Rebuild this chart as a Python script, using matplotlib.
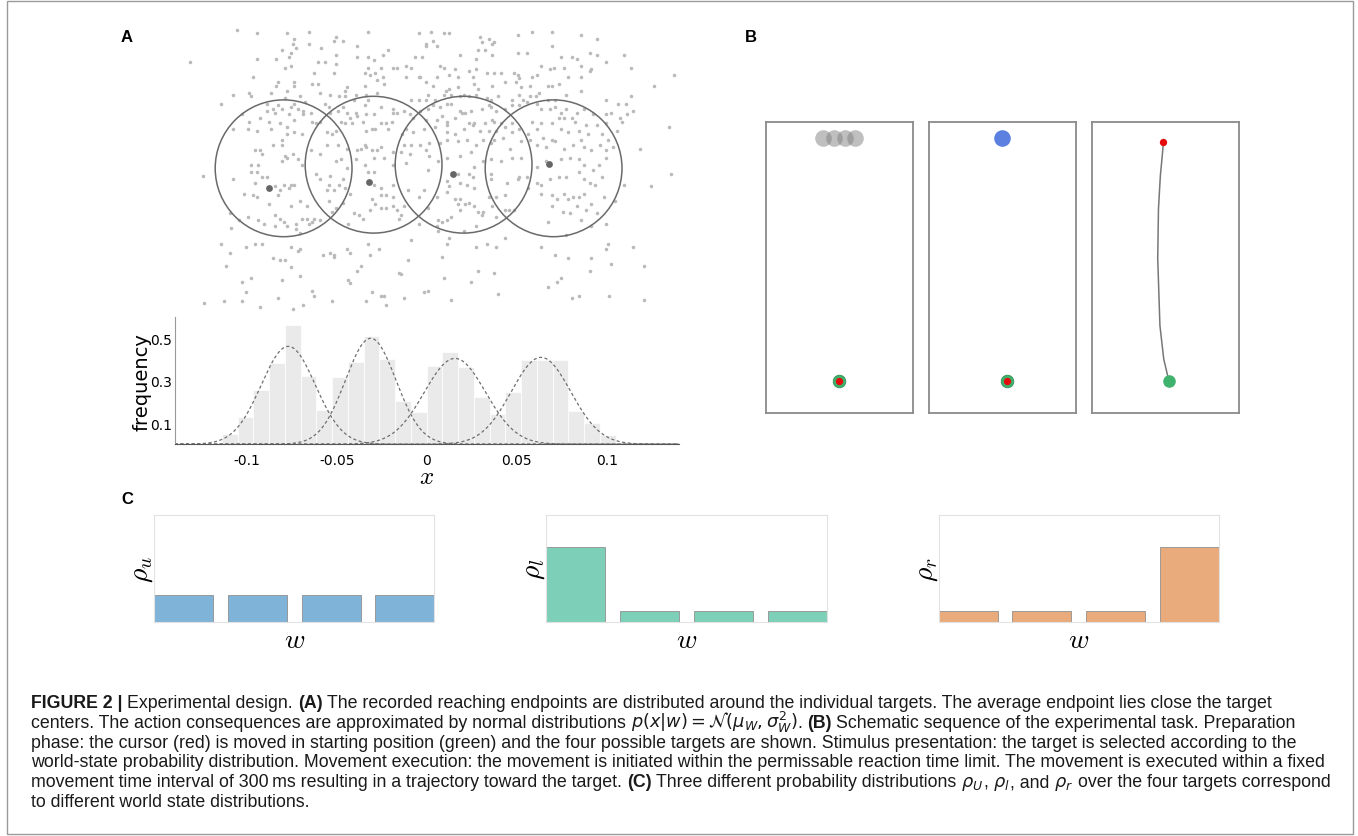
import matplotlib
matplotlib.use('Agg')
import matplotlib.pyplot as plt
from matplotlib.patches import Circle, Rectangle
from matplotlib import font_manager
import numpy as np

W, H = 1358, 837

# ---- panel A: reach endpoints (mm), targets and mean endpoints
targets_x = [-75, -25, 25, 75]
targets_y = [-1, 1, 1, -1]
target_radius = 38
mean_x = [-83.3, -27.6, 19.3, 72.4]
mean_y = [-12.1, -8.8, -4.3, 1.2]

endpoints_ul = [
    (-101, 76), (-90, 74), (-73, 74), (-61, 75), (-69, 71), (-70, 68), (-46, 72), (-47, 70), (-42, 70), (-28, 75),
    (-127, 58), (-90, 60), (-76, 65), (-71, 63), (-79, 60), (-72, 61), (-68, 66), (-54, 66), (-61, 68), (-34, 67),
    (-46, 62), (-52, 58), (-56, 58), (-46, 57), (-34, 61), (-28, 61), (-25, 59), (-20, 62), (-17, 65), (-21, 55),
    (-28, 55), (-30, 52), (-27, 51), (-24, 52), (-14, 55), (-12, 55), (-7, 56), (-7, 50), (-20, 50), (-19, 46),
    (-23, 48), (-92, 50), (-71, 56), (-74, 55), (-58, 52), (-47, 52), (-78, 47), (-79, 45), (-69, 47), (-69, 45),
    (-56, 46), (-59, 46), (-40, 44), (-41, 42), (-30, 45), (-35, 40), (-29, 40), (-23, 41), (-94, 41), (-93, 39),
    (-103, 40), (-110, 35), (-82, 41), (-73, 42), (-74, 38), (-66, 39), (-55, 41), (-52, 35), (-49, 40), (-44, 39),
    (-41, 39), (-36, 37), (-30, 34), (-28, 37), (-21, 33), (-14, 32), (-12, 30), (-8, 31), (-84, 35), (-78, 34),
    (-71, 33), (-69, 35), (-67, 32), (-63, 36), (-50, 33), (-42, 33), (-98, 29), (-94, 25), (-88, 27), (-84, 31),
    (-81, 32), (-80, 30), (-76, 32), (-83, 25), (-72, 29), (-69, 26), (-64, 29), (-64, 31), (-60, 30), (-59, 25),
    (-57, 24), (-55, 25), (-49, 30), (-45, 31), (-40, 30), (-35, 30), (-38, 27), (-34, 28), (-29, 29), (-25, 29),
    (-14, 30), (-15, 25), (-18, 24), (-103, 21), (-95, 21), (-90, 20), (-82, 21), (-77, 24), (-73, 22), (-73, 18),
    (-76, 15), (-69, 19), (-65, 18), (-51, 19), (-48, 18), (-46, 20), (-41, 24), (-43, 25), (-37, 24), (-31, 25),
    (-29, 20), (-26, 21), (-24, 21), (-21, 24), (-17, 21), (-9, 18), (-7, 21), (-91, 9), (-88, 9), (-87, 7),
    (-81, 12), (-76, 12), (-74, 6), (-73, 5), (-76, 3), (-70, 7), (-67, 4), (-60, 9), (-55, 7), (-51, 12),
    (-45, 12), (-40, 10), (-34, 9), (-30, 12), (-29, 11), (-32, 10), (-26, 9), (-23, 9), (-21, 11), (-19, 5),
    (-14, 8), (-10, 8), (-8, 12), (-93, 1), (-89, 1), (-65, 1), (-46, 3), (-43, 4), (-35, 4), (-30, 1),
    (-25, 5), (-14, 1), (-7, 2),
]
endpoints_ur = [
    (0, 74), (7, 75), (14, 74), (17, 74), (4, 68), (4, 67), (10, 67), (8, 70), (34, 72), (39, 71),
    (35, 69), (42, 69), (41, 68), (55, 73), (63, 75), (74, 75), (74, 67), (55, 63), (60, 63), (90, 73),
    (99, 71), (95, 63), (99, 62), (104, 58), (114, 62), (118, 55), (-2, 61), (2, 61), (23, 62), (32, 60),
    (41, 62), (33, 65), (37, 65), (12, 56), (14, 55), (1, 50), (0, 50), (-4, 55), (20, 54), (17, 51),
    (10, 50), (28, 53), (30, 50), (22, 50), (32, 54), (38, 52), (42, 52), (46, 52), (53, 52), (55, 51),
    (56, 49), (63, 50), (66, 51), (68, 56), (73, 54), (75, 55), (81, 55), (79, 61), (85, 61), (88, 60),
    (90, 56), (95, 53), (96, 54), (90, 50), (83, 50), (4, 47), (8, 45), (5, 40), (15, 42), (17, 43),
    (22, 44), (31, 46), (33, 43), (41, 45), (48, 47), (54, 47), (57, 44), (62, 45), (67, 41), (72, 45),
    (74, 45), (78, 46), (72, 37), (76, 37), (82, 40), (90, 42), (104, 37), (111, 35), (115, 35), (118, 39),
    (119, 31), (116, 29), (113, 25), (112, 27), (-4, 37), (0, 37), (4, 37), (9, 37), (14, 40), (18, 40),
    (23, 39), (25, 40), (28, 39), (32, 40), (38, 38), (40, 37), (44, 39), (52, 37), (56, 40), (58, 37),
    (62, 39), (66, 35), (65, 39), (-5, 29), (1, 31), (5, 32), (8, 34), (12, 33), (16, 35), (18, 35),
    (23, 31), (26, 30), (29, 31), (35, 32), (39, 34), (40, 33), (43, 31), (48, 32), (52, 34), (56, 34),
    (60, 36), (68, 32), (73, 32), (76, 33), (79, 30), (82, 32), (85, 27), (88, 30), (92, 32), (97, 29),
    (104, 29), (107, 30), (-3, 27), (4, 26), (10, 26), (13, 28), (16, 25), (20, 27), (24, 30), (28, 24),
    (31, 24), (37, 24), (41, 26), (42, 25), (52, 24), (46, 24), (63, 25), (68, 24), (74, 24), (78, 27),
    (81, 27), (87, 25), (93, 23), (99, 23), (104, 24), (-3, 19), (3, 21), (9, 22), (16, 23), (16, 19),
    (20, 18), (25, 21), (30, 23), (34, 20), (39, 20), (43, 20), (48, 22), (52, 19), (56, 21), (61, 18),
    (66, 21), (69, 16), (74, 15), (79, 21), (83, 19), (89, 20), (90, 15), (94, 18), (102, 18), (105, 15),
    (110, 20), (-4, 12), (1, 12), (6, 13), (12, 13), (16, 15), (22, 14), (27, 15), (32, 12), (36, 15),
    (40, 13), (42, 15), (47, 16), (51, 10), (57, 14), (62, 15), (66, 12), (71, 11), (76, 14), (81, 10),
    (86, 12), (92, 11), (96, 9), (101, 12), (104, 9), (108, 11), (123, 10), (-5, 7), (4, 9), (6, 6),
    (11, 3), (16, 5), (23, 6), (29, 8), (31, 0), (36, 3), (40, 4), (46, 3), (52, 5), (57, 5),
    (66, 0), (71, 3), (79, 4), (84, 5), (89, 4), (92, 1), (100, 1), (104, 5),
    (142, 51), (131, 45), (139, 22), (140, -4), (129, -11),
]
endpoints_ll = [
    (-120, -5), (-103, -7), (-93, -3), (-90, -3), (-91, -9), (-87, -6), (-84, -6), (-80, -11), (-78, -16), (-77, -13),
    (-75, -10), (-72, -12), (-71, -10), (-69, -10), (-97, -15), (-92, -16), (-90, -17), (-83, -21), (-71, -22), (-66, -19),
    (-62, -22), (-57, -4), (-55, -7), (-50, -10), (-49, -5), (-51, -13), (-47, -13), (-44, -10), (-42, -7), (-41, -12),
    (-40, -1), (-38, -15), (-50, -19), (-46, -23), (-42, -20), (-48, -25), (-36, -26), (-33, -27), (-39, -32), (-31, -29),
    (-25, -3), (-28, -3), (-25, -10), (-21, -12), (-21, -16), (-18, -16), (-26, -18), (-24, -21), (-21, -23), (-27, -24),
    (-18, -23), (-14, -22), (-11, -29), (-12, -24), (-10, -27), (-14, -10), (-14, -17), (-6, -13), (-8, -22),
    (-105, -26), (-104, -34), (-100, -30), (-95, -28), (-89, -30), (-86, -32), (-80, -27), (-77, -29), (-75, -31), (-80, -33),
    (-73, -33), (-68, -32), (-65, -29), (-62, -29), (-58, -29), (-55, -30), (-59, -31), (-68, -35), (-66, -37), (-61, -32),
    (-110, -43), (-105, -48), (-96, -45), (-91, -43), (-87, -43), (-81, -51), (-77, -52), (-74, -52), (-71, -45), (-67, -47),
    (-66, -46), (-71, -56), (-66, -61), (-53, -49), (-49, -48), (-47, -49), (-47, -50), (-40, -46), (-38, -48), (-32, -55),
    (-34, -58), (-28, -43), (-22, -46), (-27, -49), (-11, -59), (-10, -60), (-107, -55), (-98, -64), (-93, -62), (-96, -70),
    (-76, -63), (-59, -69), (-58, -72), (-39, -63), (-38, -65), (-26, -70), (-21, -72), (-19, -72), (-8, -73), (-6, -52),
    (-119, -76), (-108, -75), (-98, -75), (-88, -78), (-78, -73), (-70, -79), (-64, -77), (-48, -75), (-29, -75), (-18, -77),
]
endpoints_lr = [
    (5, -2), (16, -8), (17, -11), (23, -9), (22, -4), (28, -4), (30, -6), (31, -12), (27, -10), (16, -14),
    (10, -17), (20, -18), (23, -18), (26, -21), (28, -20), (22, -21), (23, -24), (18, -28), (11, -30), (13, -31),
    (16, -30), (10, -33), (11, -36), (3, -13), (0, -17), (5, -23), (0, -32), (-4, -41), (31, -22), (33, -25),
    (36, -25), (35, -27), (32, -33), (25, -36), (17, -40), (16, -43), (32, -45), (38, -43), (43, -45), (48, -40),
    (40, -7), (40, -4), (39, -17), (43, -17), (48, -16), (41, -22), (43, -28), (48, -24), (50, -24), (53, -24),
    (55, -7), (56, -6), (60, -6), (61, -12), (49, -9), (66, -9), (68, -10), (73, -7), (78, -6), (82, -6),
    (89, -3), (92, -7), (95, -9), (98, -10), (102, -6), (97, -2), (68, -15), (74, -16), (77, -18), (81, -15),
    (83, -18), (86, -17), (89, -17), (92, -15), (96, -21), (93, -24), (88, -22), (84, -26), (80, -25), (74, -22),
    (72, -31), (82, -38), (90, -30), (99, -26), (103, -17), (109, -19), (114, -10), (96, -33), (104, -32), (68, -45),
    (76, -49), (83, -51), (96, -51), (95, -58), (104, -46), (105, -43), (107, -54), (119, -45), (125, -55), (79, -62),
    (77, -64), (72, -67), (85, -73), (89, -72), (106, -72), (125, -74), (44, -71), (29, -64), (33, -58), (42, -59),
    (14, -62), (3, -70), (5, -69), (18, -74), (13, -50),
]

# histogram of endpoints (x in m) and fitted normals
hist_start = -0.14
bin_width = 0.00875
hist_heights = [0, 0, 0, 0.046, 0.127, 0.254, 0.382, 0.565, 0.324, 0.160, 0.317, 0.390, 0.51, 0.40, 0.202, 0.154,
                0.371, 0.434, 0.363, 0.223, 0.144, 0.248, 0.398, 0.398, 0.398, 0.155, 0.098, 0.043, 0, 0, 0, 0]
fit_mu = [-0.0769, -0.0311, 0.0157, 0.0635]
fit_sd = [0.0150, 0.0140, 0.0170, 0.0165]
fit_peak = [0.462, 0.500, 0.405, 0.410]
xticks = [-0.1, -0.05, 0, 0.05, 0.1]
xtick_labels = ['-0.1', '-0.05', '0', '0.05', '0.1']
yticks = [0.1, 0.3, 0.5]

# ---- panel B: schematic screens (screen units)
b_targets_x = [-1.1, -0.37, 0.37, 1.1]
b_target_y = 18.85
b_selected_x = -0.06
b_start_x = [0.0, 0.31, 0.21]
b_start_y = 2.2
traj_x = [0.21, -0.14, -0.40, -0.55, -0.50, -0.37, -0.22, -0.16]
traj_y = [2.2, 3.7, 6.0, 10.6, 14.0, 16.3, 17.9, 18.6]

# ---- panel C: world state distributions
w_states = [0, 1, 2, 3]
rho_u = [0.25, 0.25, 0.25, 0.25]
rho_l = [0.7, 0.1, 0.1, 0.1]
rho_r = [0.1, 0.1, 0.1, 0.7]

fig = plt.figure(figsize=(W / 100, H / 100), dpi=100)


def box(l, t, r, b):
    # pixel box -> figure fraction
    return [l / W, 1 - b / H, (r - l) / W, (b - t) / H]


'''A: endpoints'''
ax = fig.add_axes(box(166.6, 19.9, 688.6, 311.5))
for pts in (endpoints_ul, endpoints_ur, endpoints_ll, endpoints_lr):
    xs, ys = zip(*pts)
    ax.scatter(xs, ys, s=6.5, color='#bababa', linewidths=0, zorder=1)
for tx, ty in zip(targets_x, targets_y):
    ax.add_patch(Circle((tx, ty), target_radius, fill=False, ec='#6a6a6a', lw=1.1, zorder=2))
ax.scatter(mean_x, mean_y, s=24, color='#666666', linewidths=0, zorder=3)
ax.set_xlim(-140, 150)
ax.set_ylim(-80, 82)
ax.axis('off')

'''A: histogram'''
ah = fig.add_axes(box(174.7, 318.1, 678.7, 445.2))
lefts = hist_start + bin_width * np.arange(len(hist_heights))
ah.bar(lefts, hist_heights, width=bin_width, align='edge', color='#eaeaea', edgecolor='white', linewidth=0.5)
xg = np.linspace(-0.14, 0.14, 600)
for m, s, p in zip(fit_mu, fit_sd, fit_peak):
    ah.plot(xg, p * np.exp(-0.5 * ((xg - m) / s) ** 2), color='#6f6f6f', lw=0.9, ls=(0, (2.5, 2)))
ah.set_xlim(-0.14, 0.14)
ah.set_ylim(0, 0.6)
ah.spines['top'].set_visible(False)
ah.spines['right'].set_visible(False)
ah.spines['left'].set_color('#999999')
ah.spines['bottom'].set_color('#555555')
ah.set_xticks(xticks)
ah.set_xticklabels(xtick_labels)
ah.set_yticks(yticks)
ah.set_yticklabels(['0.1', '0.3', '0.5'])
ah.tick_params(length=0, labelsize=10)
ah.tick_params(axis='y', pad=2)
ah.tick_params(axis='x', pad=6)
ah.set_ylabel('frequency', fontsize=14, labelpad=-1)
ah.set_xlabel('$x$', fontsize=18, math_fontfamily='cm', labelpad=-2)

'''B: screens'''
b_boxes = [(766, 912.5), (929.2, 1076), (1092.4, 1239.2)]
axes_b = []
for l, r in b_boxes:
    a = fig.add_axes(box(l, 122.7, r, 414))
    a.set_xlim(-5, 5)
    a.set_ylim(0, 20)
    a.set_xticks([])
    a.set_yticks([])
    for sp in a.spines.values():
        sp.set_color('#8a8a8a')
        sp.set_linewidth(1.3)
    axes_b.append(a)

green = '#3fb36e'
red = '#e30b0b'
a0, a1, a2 = axes_b
a0.scatter(b_targets_x, [b_target_y] * 4, s=143, color='#808080', alpha=0.5, linewidths=0)
a1.scatter([b_selected_x], [b_target_y], s=143, color='#5b80e0', linewidths=0)
for a, sx in zip((a0, a1), b_start_x[:2]):
    a.scatter([sx], [b_start_y], s=82, color=green, edgecolors='#2f8f55', linewidths=0.6, zorder=3)
    a.scatter([sx], [b_start_y], s=28, color=red, linewidths=0, zorder=4)
a2.plot(traj_x, traj_y, color='#777777', lw=1.1, zorder=2)
a2.scatter([traj_x[-1]], [traj_y[-1]], s=28, color=red, linewidths=0, zorder=4)
a2.scatter([b_start_x[2]], [b_start_y], s=82, color=green, linewidths=0, zorder=3)

'''C: distributions'''
c_lefts = [153.8, 546.2, 938.5]
c_cols = ['#7fb3d8', '#7ecfb7', '#e9aa7c']
c_labels = [r'$\rho_u$', r'$\rho_l$', r'$\rho_r$']
for l, vals, col, lab in zip(c_lefts, (rho_u, rho_l, rho_r), c_cols, c_labels):
    a = fig.add_axes(box(l, 516, l + 280.7, 622.7))
    a.bar(w_states, vals, width=0.8, color=col, edgecolor='#909090', linewidth=0.6)
    a.set_xlim(-0.4, 3.4)
    a.set_ylim(0, 1)
    a.set_xticks([])
    a.set_yticks([])
    for sp in a.spines.values():
        sp.set_color('#e2e2e2')
    a.text(-0.046, 0.5, lab, transform=a.transAxes, rotation=90, ha='center', va='center',
           fontsize=20, math_fontfamily='cm')
    a.text(0.5, -0.165, '$w$', transform=a.transAxes, ha='center', va='center',
           fontsize=20, math_fontfamily='cm')

'''panel letters'''
for s, x, y in (('A', 127, 37), ('B', 751, 37), ('C', 127, 500)):
    fig.text(x / W, 1 - y / H, s, fontsize=12, weight='bold', family='Liberation Sans', ha='center', va='center')

'''caption'''
names = {f.name for f in font_manager.fontManager.ttflist}
cap_family = 'Liberation Sans Narrow' if 'Liberation Sans Narrow' in names else 'Liberation Sans'
renderer = fig.canvas.get_renderer()

caption = [
    [('FIGURE 2 |', 'b', 0), ('Experimental design.', 'n', 1), ('(A)', 'b', 1),
     ('The recorded reaching endpoints are distributed around the individual targets. '
      'The average endpoint lies close the target', 'n', 1)],
    [('centers. The action consequences are approximated by normal distributions', 'n', 0),
     (r'$p(x|w) = \mathcal{N}(\mu_W, \sigma_W^2)$', 'n', 1), ('.', 'n', 0), ('(B)', 'b', 1),
     ('Schematic sequence of the experimental task. Preparation', 'n', 1)],
    [('phase: the cursor (red) is moved in starting position (green) and the four possible targets are shown. '
      'Stimulus presentation: the target is selected according to the', 'n', 0)],
    [('world-state probability distribution. Movement execution: the movement is initiated within the '
      'permissable reaction time limit. The movement is executed within a fixed', 'n', 0)],
    [('movement time interval of 300\u2009ms resulting in a trajectory toward the target.', 'n', 0),
     ('(C)', 'b', 1), ('Three different probability distributions', 'n', 1), (r'$\rho_U$', 'n', 1),
     (',', 'n', 0), (r'$\rho_l$', 'n', 1), (', and', 'n', 0), (r'$\rho_r$', 'n', 1),
     ('over the four targets correspond', 'n', 1)],
    [('to different world state distributions.', 'n', 0)],
]


def put(x, y, s, size, weight):
    t = fig.text(x / W, 1 - y / H, s, fontsize=size, family=cap_family, weight=weight,
                 color='#1a1a1a', ha='left', va='baseline', math_fontfamily='dejavusans')
    return t, t.get_window_extent(renderer).width


t, w_ref = put(0, -50, caption[3][0][0], 10, 'normal')
t.remove()
cap_size = 10 * 1305 / w_ref
t1, wa = put(0, -50, 'a a', cap_size, 'normal')
t2, wb = put(0, -50, 'aa', cap_size, 'normal')
space = wa - wb
t1.remove()
t2.remove()

x0, y0, step = 31, 708, 19.8
for i, line in enumerate(caption):
    x = x0
    for s, kind, gap in line:
        if gap:
            x += space
        _, w = put(x, y0 + i * step, s, cap_size, 'bold' if kind == 'b' else 'normal')
        x += w

fig.add_artist(Rectangle((7 / W, 2 / H), 1346 / W, 833 / H, transform=fig.transFigure,
                         fill=False, ec='#9a9a9a', lw=1))

fig.savefig('out.png', dpi=100)
